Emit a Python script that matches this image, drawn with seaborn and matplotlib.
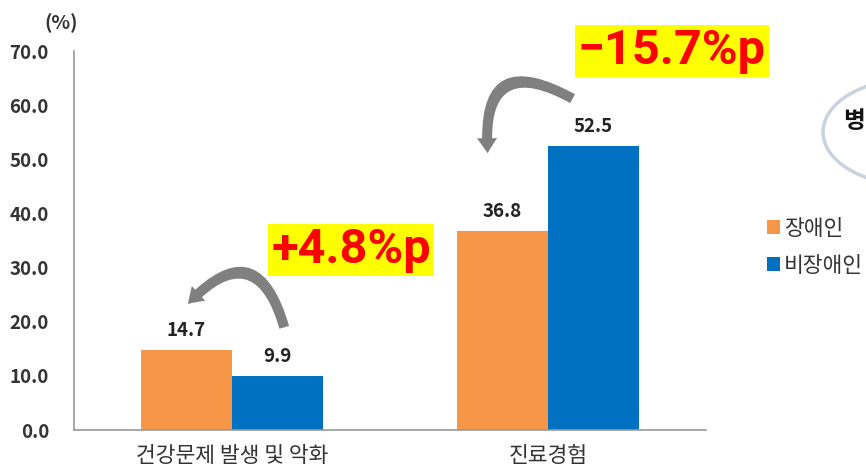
import matplotlib
matplotlib.use("Agg")
import matplotlib.pyplot as plt
from matplotlib.patches import FancyArrowPatch, Ellipse, Patch
import seaborn as sns
import pandas as pd

# Data
categories = ["건강문제 발생 및 악화", "진료경험"]
groups = ["장애인", "비장애인"]
disabled = [14.7, 36.8]
non_disabled = [9.9, 52.5]
gap_labels = ["+4.8%p", "\u221215.7%p"]
y_ticks = [0, 10, 20, 30, 40, 50, 60, 70]

colors = {"장애인": "#F79646", "비장애인": "#0070C0"}

df = pd.DataFrame({
    "category": categories * 2,
    "group": [groups[0]] * 2 + [groups[1]] * 2,
    "value": disabled + non_disabled,
})

sns.set_style("white")
plt.rcParams["font.family"] = ["Noto Sans CJK KR", "DejaVu Sans"]

W, H = 866, 470
fig = plt.figure(figsize=(W / 100, H / 100), dpi=100)
ax = fig.add_axes([74 / W, 1 - 430 / H, (706 - 74) / W, (430 - 51) / H])


def fx(x):
    return x / W


def fy(y):
    return 1 - y / H


sns.barplot(data=df, x="category", y="value", hue="group", hue_order=groups,
            palette=colors, width=0.576, gap=0, saturation=1, legend=False,
            linewidth=0, ax=ax)

ax.set_xlim(-0.5, 1.5)
ax.set_ylim(0, 70)
ax.set_yticks(y_ticks)
ax.set_yticklabels([f"{v:.1f}" for v in y_ticks], fontsize=13.5, fontweight="bold",
                   color="#333333")
ax.set_xlabel("")
ax.set_ylabel("")
ax.set_xticks([0, 1])
ax.set_xticklabels(categories, fontsize=15.5, color="#333333")
ax.set_xticks([0.5, 1.5], minor=True)
ax.tick_params(axis="x", which="major", length=0, pad=11)
ax.tick_params(axis="x", which="minor", length=5, width=1, color="#999999",
               direction="out")
ax.tick_params(axis="y", length=5, width=1, color="#999999", direction="out", pad=13)
for s in ["top", "right"]:
    ax.spines[s].set_visible(False)
for s in ["left", "bottom"]:
    ax.spines[s].set_color("#999999")
    ax.spines[s].set_linewidth(1.2)

# Value labels above bars
for container in ax.containers:
    for bar in container:
        h = bar.get_height()
        ax.annotate(f"{h:.1f}", (bar.get_x() + bar.get_width() / 2, h),
                    xytext=(0, 14), textcoords="offset points",
                    ha="center", va="center", fontsize=13.5, fontweight="bold",
                    color="#222222")

# Unit label
fig.text(fx(61), fy(23), "(%)", ha="center", va="center", fontsize=14,
         fontweight="bold", color="#333333")

# Curved arrows between the paired bars
arrow_kw = dict(arrowstyle="simple,head_width=1.2,head_length=0.9,tail_width=0.6",
                color="#808080", mutation_scale=12, transform=fig.transFigure,
                lw=0)
fig.patches.append(FancyArrowPatch((fx(285), fy(330)), (fx(186), fy(306)),
                                   connectionstyle="arc3,rad=0.9", **arrow_kw))
fig.patches.append(FancyArrowPatch((fx(575), fy(100)), (fx(488), fy(156)),
                                   connectionstyle="arc3,rad=0.95", **arrow_kw))

# Gap callouts
for (cx, cy), txt in zip([(351, 250), (672, 51)], gap_labels):
    fig.text(fx(cx), fy(cy), txt, ha="center", va="center", fontsize=35,
             fontweight="bold", color="#FF0000", family="Roboto",
             bbox=dict(boxstyle="square,pad=0.06", fc="#FFFF00", ec="none"))

# Legend
handles = [Patch(facecolor=colors[g], edgecolor="none") for g in groups]
fig.legend(handles, groups, loc="upper left", bbox_to_anchor=(fx(758), fy(209)),
           bbox_transform=fig.transFigure, frameon=False, fontsize=15.5,
           handlelength=0.6, handleheight=0.6, handletextpad=0.2,
           labelspacing=0.7, labelcolor="#333333", borderaxespad=0)

# Side note bubble
fig.patches.append(Ellipse((fx(912), fy(132)), 178 / W, 106 / H, fill=False,
                           ec="#C9D2DE", lw=2.5, transform=fig.transFigure))
fig.text(fx(865), fy(121), "병", ha="right", va="center", fontsize=17,
         fontweight="bold", color="#111111")

fig.savefig("out.png", dpi=100)
